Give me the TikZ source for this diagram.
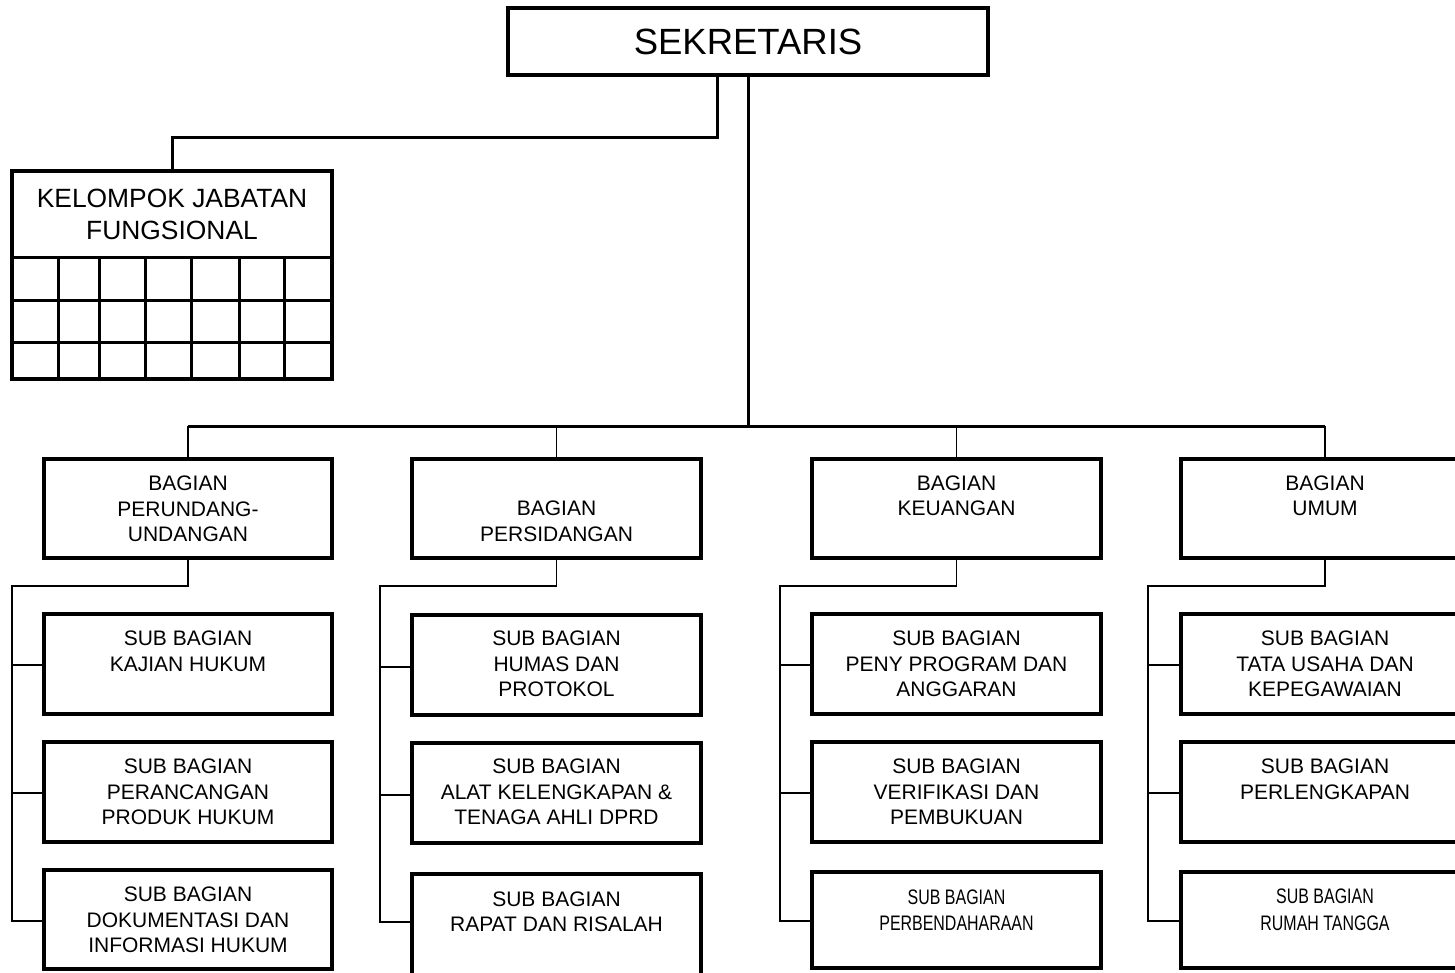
\documentclass[tikz,border=0pt]{standalone}
\usepackage{fontspec}
\setmainfont{Liberation Sans}
\newfontfamily\narrowfont[FakeStretch=0.76]{Liberation Sans}
\begin{document}
\begin{tikzpicture}[x=1pt,y=-1pt,
  box/.style={draw, line width=3.2pt, rectangle, inner sep=0pt, fill=white},
  lbl/.style={align=center, inner sep=0pt, font=\fontsize{21}{25.5}\selectfont},
  nlbl/.style={align=center, inner sep=0pt, font=\narrowfont\fontsize{21}{26.5}\selectfont},
  bus/.style={line width=3pt},
  link/.style={line width=1.8pt},
  gridline/.style={line width=3pt}]
\useasboundingbox (0,0) rectangle (1455,972);
\clip (0,0) rectangle (1455,972);

% ---------- top ----------
\node[box, minimum width=480pt, minimum height=67pt,
      font=\fontsize{36.5}{40}\selectfont] (sek) at (748,41.5) {SEKRETARIS};

\node[box, minimum width=320pt, minimum height=208pt] (kjf) at (172,275) {};
\node[align=center, inner sep=0pt, font=\fontsize{26.4}{32}\selectfont] (kjft) at (172,214)
     {KELOMPOK JABATAN\\FUNGSIONAL};
\draw[gridline] (kjf.west |- 0,257) -- (kjf.east |- 0,257);
\draw[gridline] (kjf.west |- 0,300) -- (kjf.east |- 0,300);
\draw[gridline] (kjf.west |- 0,342) -- (kjf.east |- 0,342);
\foreach \gx in {58,99,145,191,239,284}
  \draw[gridline] (\gx,257) -- (kjf.south -| \gx,0);

\coordinate (jf) at (717,137);
\draw[bus] (sek.south -| jf) -- (jf) -| (kjf.north);

% ---------- bagian ----------
\node[box, minimum width=288pt, minimum height=99pt] (b1) at (188,508.5) {};
\node[box, minimum width=289pt, minimum height=99pt] (b2) at (556.5,508.5) {};
\node[box, minimum width=289pt, minimum height=99pt] (b3) at (956.5,508.5) {};
\node[box, minimum width=288pt, minimum height=99pt] (b4) at (1325,508.5) {};

\node[lbl] (b1t) at (188,509) {BAGIAN\\PERUNDANG-\\UNDANGAN};
\node[lbl] (b2t) at (556.5,521.5) {BAGIAN\\PERSIDANGAN};
\node[lbl] (b3t) at (956.5,496) {BAGIAN\\KEUANGAN};
\node[lbl] (b4t) at (1325,496) {BAGIAN\\UMUM};

\coordinate (busy) at (0,426);
\draw[bus] (sek.south) -- (sek.south |- busy);
\draw[bus] (b1.north |- busy) -- (b4.north |- busy);
\foreach \b in {b1,b2,b3,b4}
  \draw[link] (\b.north |- busy) -- (\b.north);

% ---------- sub bagian boxes ----------
% column 1
\node[box, minimum width=288pt, minimum height=100pt] (s11) at (188,664) {};
\node[box, minimum width=288pt, minimum height=100pt] (s12) at (188,792) {};
\node[box, minimum width=288pt, minimum height=99pt]  (s13) at (188,919.5) {};
% column 2
\node[box, minimum width=289pt, minimum height=100pt] (s21) at (556.5,665) {};
\node[box, minimum width=289pt, minimum height=100pt] (s22) at (556.5,793) {};
\node[box, minimum width=289pt, minimum height=104pt] (s23) at (556.5,926) {};
% column 3
\node[box, minimum width=289pt, minimum height=100pt] (s31) at (956.5,664) {};
\node[box, minimum width=289pt, minimum height=100pt] (s32) at (956.5,792) {};
\node[box, minimum width=289pt, minimum height=96pt]  (s33) at (956.5,920) {};
% column 4
\node[box, minimum width=288pt, minimum height=100pt] (s41) at (1325,664) {};
\node[box, minimum width=288pt, minimum height=100pt] (s42) at (1325,792) {};
\node[box, minimum width=288pt, minimum height=96pt]  (s43) at (1325,920) {};

% texts
\node[lbl] (s11t) at (188,651.5) {SUB BAGIAN\\KAJIAN HUKUM};
\node[lbl] (s12t) at (188,792) {SUB BAGIAN\\PERANCANGAN\\PRODUK HUKUM};
\node[lbl] (s13t) at (188,920) {SUB BAGIAN\\DOKUMENTASI DAN\\INFORMASI HUKUM};

\node[lbl] (s21t) at (556.5,664) {SUB BAGIAN\\HUMAS DAN\\PROTOKOL};
\node[lbl] (s22t) at (556.5,792) {SUB BAGIAN\\ALAT KELENGKAPAN \&\\TENAGA AHLI DPRD};
\node[lbl] (s23t) at (556.5,912) {SUB BAGIAN\\RAPAT DAN RISALAH};

\node[lbl] (s31t) at (956.5,664) {SUB BAGIAN\\PENY PROGRAM DAN\\ANGGARAN};
\node[lbl] (s32t) at (956.5,792) {SUB BAGIAN\\VERIFIKASI DAN\\PEMBUKUAN};
\node[nlbl] (s33t) at (956.5,910) {SUB BAGIAN\\PERBENDAHARAAN};

\node[lbl] (s41t) at (1325,664) {SUB BAGIAN\\TATA USAHA DAN\\KEPEGAWAIAN};
\node[lbl] (s42t) at (1325,779.5) {SUB BAGIAN\\PERLENGKAPAN};
\node[nlbl] (s43t) at (1325,910) {SUB BAGIAN\\RUMAH TANGGA};

% ---------- sub connectors ----------
\coordinate (t1) at (12,586);
\coordinate (t2) at (380,586);
\coordinate (t3) at (780,586);
\coordinate (t4) at (1148,586);

\draw[link] (b1.south) |- (t1) |- (s13.west |- 0,921);
\draw[link] (t1 |- 0,665) -- (s11.west |- 0,665);
\draw[link] (t1 |- 0,793) -- (s12.west |- 0,793);

\draw[link] (b2.south) |- (t2) |- (s23.west |- 0,922);
\draw[link] (t2 |- 0,667) -- (s21.west |- 0,667);
\draw[link] (t2 |- 0,795) -- (s22.west |- 0,795);

\draw[link] (b3.south) |- (t3) |- (s33.west |- 0,921);
\draw[link] (t3 |- 0,665) -- (s31.west |- 0,665);
\draw[link] (t3 |- 0,793) -- (s32.west |- 0,793);

\draw[link] (b4.south) |- (t4) |- (s43.west |- 0,921);
\draw[link] (t4 |- 0,665) -- (s41.west |- 0,665);
\draw[link] (t4 |- 0,793) -- (s42.west |- 0,793);
\end{tikzpicture}
\end{document}
